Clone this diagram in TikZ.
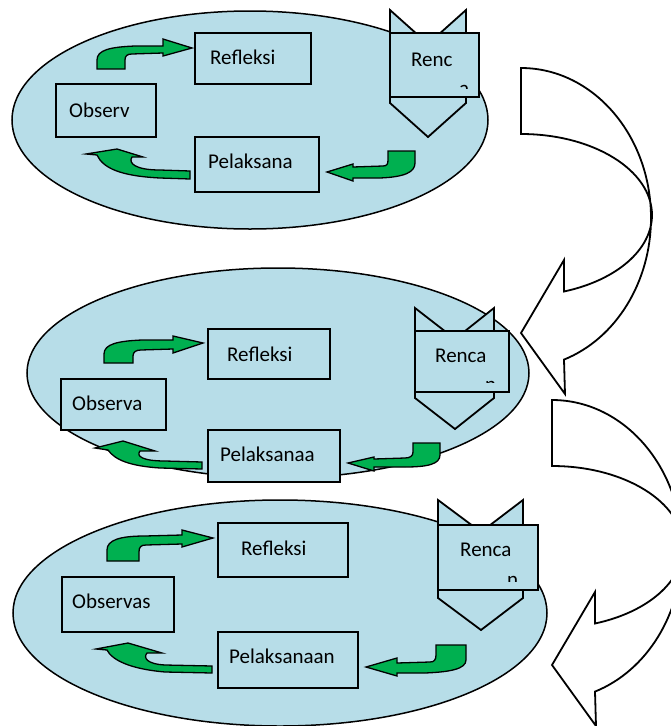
\documentclass[tikz,border=0pt]{standalone}
\usepackage{fontspec}
\setmainfont{Carlito}
\usetikzlibrary{shapes.geometric,fit}
\definecolor{lblue}{HTML}{B7DDE8}
\definecolor{ggreen}{HTML}{00B050}
\begin{document}
\begin{tikzpicture}[x=1pt,y=-1pt,
  panel/.style={ellipse, draw=black, line width=1.5pt, fill=lblue, inner sep=0pt},
  box/.style={rectangle, draw=black, line width=1.8pt, fill=lblue, inner sep=0pt},
  chev/.style={draw=black, line width=1.8pt, fill=lblue, line join=miter},
  lbl/.style={anchor=base west, inner sep=0pt, text=black, font=\fontsize{21}{25}\selectfont},
  garrow/.style={draw=black, line width=1.3pt, fill=ggreen, line join=miter},
  warrow/.style={draw=black, line width=1.8pt, fill=white, line join=miter},
  bigarrow/.pic={
    \draw[warrow] (521,68) .. controls (592.8,68) and (651,135.2) .. (651,218)
      .. controls (651,281.8) and (616.1,338.5) .. (564,359.6)
      -- (565,394) -- (521,333) -- (564,260) -- (564,291.5)
      .. controls (616.7,280.2) and (652,249.5) .. (652,215)
      .. controls (652,170.3) and (593.4,134) .. (521,134) -- cycle;
  }
]
\useasboundingbox (0,0) rectangle (671,726);
\clip (0,0) rectangle (671,726);
\fill[white] (0,0) rectangle (671,726);

% ---------------- top panel ----------------
\node[panel, minimum width=476pt, minimum height=218pt] (pA) at (250,120) {};
\draw[chev] (390,10) -- (428,44) -- (466,10) -- (466,103) -- (428,137) -- (390,103) -- cycle;
\node[box, fit={(390,33) (479,97)}] (rA) {};
\node[box, fit={(195,33) (311,84)}] (fA) {};
\node[box, fit={(56,84) (156,137)}] (oA) {};
\node[box, fit={(195,137) (319,192)}] (kA) {};
\node[lbl] (trA) at (411,66) {Renc};
\node[lbl] (tfA) at (210,64) {Refleksi};
\node[lbl] (toA) at (69,117) {Observ};
\node[lbl] (tkA) at (208,168) {Pelaksana};
\begin{scope}
  \clip (450,78) rectangle (478,88);
  \node[lbl] (xA) at (459,95) {a};
\end{scope}
\draw[garrow] (97,69) -- (97,60) .. controls (97,50) and (110,47) .. (135,46) -- (163,46)
  -- (163,39) -- (192,48) -- (163,56) -- (163,53) -- (132,54)
  .. controls (127,54) and (125,56) .. (125,60) -- (125,69) -- cycle;
\draw[garrow] (86,154) -- (117,149) -- (143,157) -- (132,157)
  .. controls (128,163) and (135,170) .. (160,170) -- (190,171) -- (190,179) -- (160,178)
  .. controls (120,176) and (103,168) .. (97,155) -- cycle;
\draw[garrow] (388,151) -- (415,151) -- (415,163) .. controls (415,172) and (405,177) .. (380,178)
  -- (353,178) -- (353,181) -- (327,172) -- (353,164) -- (353,167) -- (383,166)
  .. controls (387,166) and (388,164) .. (388,160) -- cycle;

% ---------------- middle panel ----------------
\node[panel, minimum width=502pt, minimum height=210pt] (pB) at (278,373) {};
\draw[chev] (415,308) -- (455,339) -- (494,308) -- (494,398) -- (455,429) -- (415,398) -- cycle;
\node[box, fit={(415,331) (509,392)}] (rB) {};
\node[box, fit={(208,329) (330,379)}] (fB) {};
\node[box, fit={(61,379) (166,430)}] (oB) {};
\node[box, fit={(208,430) (340,482)}] (kB) {};
\node[lbl] (trB) at (435,362) {Renca};
\node[lbl] (tfB) at (227,361) {Refleksi};
\node[lbl] (toB) at (72,410) {Observa};
\node[lbl] (tkB) at (220,461) {Pelaksanaa};
\begin{scope}
  \clip (480,376) rectangle (505,382);
  \node[lbl] (xB) at (485,391.5) {n};
\end{scope}
\draw[garrow] (104,363) -- (104,354) .. controls (104,344) and (118,341) .. (142,340) -- (173,340)
  -- (173,336) -- (203,343) -- (173,353) -- (173,349) -- (141,350)
  .. controls (136,350) and (133,352) .. (133,356) -- (133,363) -- cycle;
\draw[garrow] (95,448) -- (123,441) -- (155,451) -- (140,451)
  .. controls (136,456) and (142,461) .. (165,461) -- (202,462) -- (202,469) -- (160,468)
  .. controls (130,466) and (115,460) .. (108,450) -- cycle;
\draw[garrow] (413,443) -- (440,443) -- (440,455) .. controls (440,464) and (428,467) .. (405,467)
  -- (374,467) -- (374,471) -- (348,463) -- (374,457) -- (374,459) -- (405,458)
  .. controls (410,458) and (413,456) .. (413,452) -- cycle;

% ---------------- bottom panel ----------------
\node[panel, minimum width=534pt, minimum height=226pt] (pC) at (280,613) {};
\draw[chev] (438,500) -- (481,532) -- (523,500) -- (523,598) -- (481,630) -- (438,598) -- cycle;
\node[box, fit={(438,525) (538,590)}] (rC) {};
\node[box, fit={(218,523) (348,577)}] (fC) {};
\node[box, fit={(62,577) (174,632)}] (oC) {};
\node[box, fit={(218,632) (358,688)}] (kC) {};
\node[lbl] (trC) at (460,556) {Renca};
\node[lbl] (tfC) at (241,555) {Refleksi};
\node[lbl] (toC) at (72,608) {Observas};
\node[lbl] (tkC) at (229,663) {Pelaksanaan};
\begin{scope}
  \clip (500,570) rectangle (530,581);
  \node[lbl] (xC) at (507,586) {n};
\end{scope}
\draw[garrow] (107,561) -- (107,550) .. controls (107,540) and (120,536) .. (145,536) -- (182,535)
  -- (182,530) -- (213,538) -- (182,547) -- (182,544) -- (146,545)
  .. controls (141,545) and (139,547) .. (139,552) -- (139,561) -- cycle;
\draw[garrow] (96,649) -- (128,643) -- (162,653) -- (147,653)
  .. controls (143,658) and (147,664) .. (165,665) -- (212,666) -- (212,673) -- (165,672)
  .. controls (130,669) and (112,660) .. (107,650) -- cycle;
\draw[garrow] (436,645) -- (466,645) -- (466,660) .. controls (466,669) and (450,672) .. (425,673)
  -- (397,673) -- (397,676) -- (366,667) -- (397,658) -- (397,663) -- (430,662)
  .. controls (434,662) and (436,660) .. (436,655) -- cycle;

% ---------------- big white arrows ----------------
\pic (wa1) at (0,0) {bigarrow};
\pic (wa2) at (31,332) {bigarrow};
\end{tikzpicture}
\end{document}
